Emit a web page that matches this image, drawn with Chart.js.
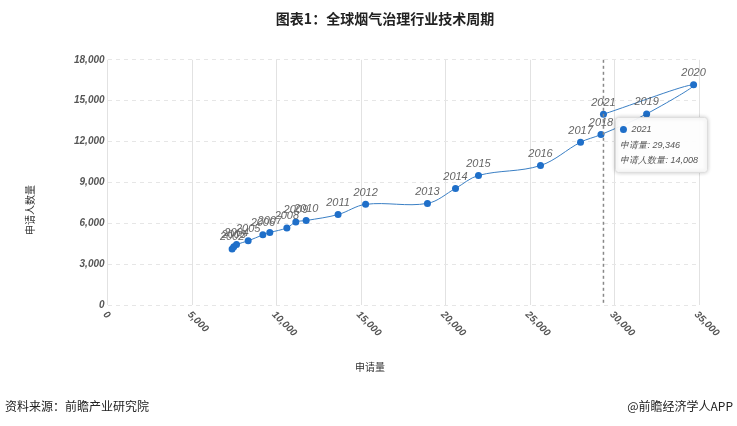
<!DOCTYPE html>
<html>
<head>
<meta charset="utf-8">
<script src="https://cdn.jsdelivr.net/npm/chart.js@4"></script>
<style>
  html, body { margin: 0; padding: 0; background: #fff; }
  #wrap { width: 737px; height: 426px; }
</style>
</head>
<body>
<div id="wrap"><canvas id="c"></canvas></div>
<script>
// ============= 全球烟气治理行业技术周期 =====================
const years = ['2002', '2003', '2004', '2005', '2006', '2007', '2008', '2009', '2010', '2011', '2012',
    '2013', '2014', '2015', '2016', '2017', '2018', '2019', '2020', '2021']
const applications = [7370, 7470, 7630, 8320, 9190, 9600, 10610, 11140, 11750, 13640, 15270,
    18930, 20590, 21950, 25620, 27990, 29200, 31900, 34680, 29346]
const applicants = [4120, 4270, 4440, 4710, 5150, 5320, 5660, 6100, 6200, 6640, 7390,
    7460, 8560, 9510, 10240, 11950, 12510, 14030, 16170, 14008]
const xTicks = [0, 5000, 10000, 15000, 20000, 25000, 30000, 35000]

const points = years.map((y, i) => ({ x: applications[i], y: applicants[i], year: y }))
const fmt = n => n.toLocaleString('en-US')

const overlay = {
    id: 'overlay',
    afterDatasetsDraw(chart) {
        const ctx = chart.ctx
        const xs = chart.scales.x, ys = chart.scales.y
        ctx.save()
        // crosshair at 2021
        const last = points[points.length - 1]
        const cx = xs.getPixelForValue(last.x)
        ctx.strokeStyle = '#888'
        ctx.setLineDash([3, 3])
        ctx.lineWidth = 1.5
        ctx.beginPath(); ctx.moveTo(cx, ys.top); ctx.lineTo(cx, ys.bottom); ctx.stroke()
        ctx.setLineDash([])
        // year labels
        ctx.font = 'italic 11px "Liberation Sans", Arial'
        ctx.fillStyle = '#666'
        ctx.textAlign = 'center'
        ctx.textBaseline = 'bottom'
        points.forEach(p => {
            ctx.fillText(p.year, xs.getPixelForValue(p.x), ys.getPixelForValue(p.y) - 6)
        })
        // rotated x tick labels
        ctx.font = 'italic bold 10px "Liberation Sans", Arial'
        ctx.fillStyle = '#555'
        ctx.textAlign = 'left'
        ctx.textBaseline = 'middle'
        xTicks.forEach(v => {
            ctx.save()
            ctx.translate(xs.getPixelForValue(v) - 3, ys.bottom + 8)
            ctx.rotate(Math.PI / 4)
            ctx.fillText(fmt(v), 0, 0)
            ctx.restore()
        })
        // tooltip box
        const px = cx + 12, py = ys.getPixelForValue(10100)
        ctx.fillStyle = 'rgba(255,255,255,0.95)'
        ctx.strokeStyle = '#ddd'
        ctx.lineWidth = 1
        ctx.shadowColor = 'rgba(0,0,0,0.2)'; ctx.shadowBlur = 4
        ctx.beginPath(); ctx.roundRect(px, py - 50, 92, 55, 3); ctx.fill(); ctx.stroke()
        ctx.shadowBlur = 0
        ctx.fillStyle = '#1f6fc9'
        ctx.beginPath(); ctx.arc(px + 8, py - 38, 3.5, 0, Math.PI * 2); ctx.fill()
        ctx.fillStyle = '#555'
        ctx.font = 'italic 9px "Liberation Sans", Arial'
        ctx.fillText(last.year, px + 16, py - 38)
        ctx.fillText('申请量: ' + fmt(last.x), px + 5, py - 22)
        ctx.fillText('申请人数量: ' + fmt(last.y), px + 5, py - 7)
        // axis titles
        ctx.fillStyle = '#333'
        ctx.font = '10px "Noto Sans CJK SC"'
        ctx.textAlign = 'center'
        ctx.fillText('申请量', 370, 367)
        ctx.save(); ctx.translate(30, 210); ctx.rotate(-Math.PI / 2)
        ctx.fillText('申请人数量', 0, 0); ctx.restore()
        // footer
        ctx.font = '12px "Noto Sans CJK SC"'
        ctx.fillStyle = '#222'
        ctx.textAlign = 'left'
        ctx.fillText('资料来源：前瞻产业研究院', 5, 406)
        ctx.textAlign = 'right'
        ctx.fillText('@前瞻经济学人APP', 733, 406)
        ctx.restore()
    }
}

new Chart(document.getElementById('c').getContext('2d'), {
    type: 'line',
    data: {
        datasets: [{
            data: points,
            borderColor: '#3a7fc4',
            borderWidth: 1,
            backgroundColor: '#1f6fc9',
            pointRadius: 3.5,
            pointBorderWidth: 0,
            tension: 0.35
        }]
    },
    plugins: [overlay],
    options: {
        responsive: true,
        maintainAspectRatio: false,
        animation: false,
        layout: { padding: { left: 71, right: 38, top: 0, bottom: 121 } },
        plugins: {
            legend: { display: false },
            tooltip: { enabled: false },
            title: {
                display: true,
                text: '图表1：全球烟气治理行业技术周期',
                font: { family: '"Noto Sans CJK SC"', size: 14, weight: 'bold' },
                color: '#222',
                padding: { top: 10, bottom: 33 }
            }
        },
        scales: {
            x: {
                type: 'linear',
                min: 0, max: 35000,
                ticks: { stepSize: 5000, display: false },
                grid: { color: '#e2e2e2', drawTicks: false },
                border: { display: false }
            },
            y: {
                min: 0, max: 18000,
                ticks: {
                    stepSize: 3000,
                    callback: v => fmt(v),
                    color: '#555',
                    font: { family: '"Liberation Sans"', size: 10, style: 'italic', weight: 'bold' }
                },
                grid: { color: '#e6e6e6', drawTicks: false },
                border: { display: false, dash: [4, 4] }
            }
        }
    }
})
</script>
</body>
</html>
